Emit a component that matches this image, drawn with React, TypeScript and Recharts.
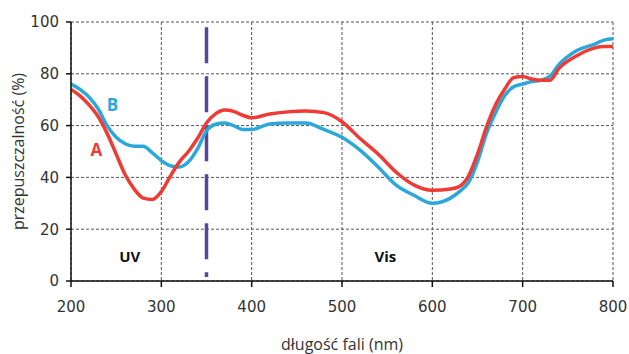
import React from 'react';
import {
  LineChart, Line, XAxis, YAxis, CartesianGrid, ReferenceLine, ReferenceDot,
} from 'recharts';

const wavelengths = [200, 210, 220, 230, 240, 250, 260, 270, 280, 290, 300, 310, 320, 330, 340, 350, 360, 370, 380, 390, 400, 420, 440, 460, 480, 500, 520, 540, 560, 580, 600, 620, 630, 640, 650, 660, 670, 680, 690, 700, 710, 720, 730, 740, 760, 780, 790, 800];
const seriesA = [74, 71.5, 68, 63.5, 57, 49, 41, 35.5, 32, 31.5, 34.5, 40.5, 46, 50, 55, 61, 64.5, 66, 65.5, 64, 63, 64.5, 65.3, 65.6, 65, 61.5, 55, 49, 42, 37, 35, 35.5, 36.5, 40.5, 49, 59.5, 68, 74, 78.5, 79, 78, 77.5, 77.5, 82, 87, 90, 90.5, 90.5];
const seriesB = [76, 74, 71, 66.5, 60, 55.5, 53, 52, 52, 49.5, 46.5, 44.5, 44, 46, 51, 58, 60.5, 61, 60, 58.5, 58.5, 60.6, 61, 61, 58.5, 55.5, 50.5, 44, 37, 33, 30, 32, 34.5, 38, 46, 57, 65, 71.5, 75, 76, 77, 77.5, 79, 83.5, 89, 91.5, 93, 93.5];
const xTicks = [200, 300, 400, 500, 600, 700, 800];
const yTicks = [0, 20, 40, 60, 80, 100];
const boundaryNm = 350;

const data = wavelengths.map((nm, i) => ({ nm, A: seriesA[i], B: seriesB[i] }));

const FONT = "'DejaVu Sans', sans-serif";
const LFONT = "'Open Sans', sans-serif";

export default function App() {
  return (
    <div style={{ position: 'absolute', left: 0, top: 0, background: '#fff' }}>
      <LineChart width={629} height={354} data={data} margin={{ top: 22, right: 16, bottom: 0, left: 0 }}>
        <CartesianGrid stroke="#555" strokeDasharray="3 2" strokeWidth={1} />
        <XAxis
          dataKey="nm"
          type="number"
          domain={[200, 800]}
          ticks={xTicks}
          height={73}
          tickSize={6}
          tickMargin={14}
          stroke="#111"
          strokeWidth={1.5}
          tick={{ fill: '#333', fontSize: 15, fontFamily: FONT }}
          label={{ value: 'długość fali (nm)', position: 'insideBottom', offset: 4, fill: '#333', fontSize: 16, fontFamily: LFONT }}
        />
        <YAxis
          type="number"
          domain={[0, 100]}
          ticks={yTicks}
          width={71}
          tickSize={5}
          tickMargin={7}
          stroke="#111"
          strokeWidth={1.5}
          tick={{ fill: '#333', fontSize: 15, fontFamily: FONT }}
          label={{ value: 'przepuszczalność (%)', angle: -90, position: 'insideLeft', offset: 18, textAnchor: 'middle', fill: '#333', fontSize: 16, fontFamily: LFONT }}
        />
        <ReferenceLine
          segment={[{ x: boundaryNm, y: 98 }, { x: boundaryNm, y: 1.5 }]}
          stroke="#55489c"
          strokeWidth={3.5}
          strokeDasharray="36 13"
        />
        <Line type="monotone" dataKey="B" stroke="#2aa8dc" strokeWidth={3.5} dot={false} isAnimationActive={false} />
        <Line type="monotone" dataKey="A" stroke="#f03a34" strokeWidth={3.5} dot={false} isAnimationActive={false} />
        <ReferenceDot x={265} y={9.3} r={0} fill="none" stroke="none"
          label={{ value: 'UV', position: 'center', fill: '#111', fontSize: 15, fontWeight: 700, fontFamily: LFONT }} />
        <ReferenceDot x={548} y={9.3} r={0} fill="none" stroke="none"
          label={{ value: 'Vis', position: 'center', fill: '#111', fontSize: 15, fontWeight: 700, fontFamily: LFONT }} />
        <ReferenceDot x={228} y={50.5} r={0} fill="none" stroke="none"
          label={{ value: 'A', position: 'center', fill: '#f03a34', fontSize: 17, fontWeight: 700, fontFamily: LFONT }} />
        <ReferenceDot x={246} y={68} r={0} fill="none" stroke="none"
          label={{ value: 'B', position: 'center', fill: '#2aa8dc', fontSize: 17, fontWeight: 700, fontFamily: LFONT }} />
      </LineChart>
    </div>
  );
}
